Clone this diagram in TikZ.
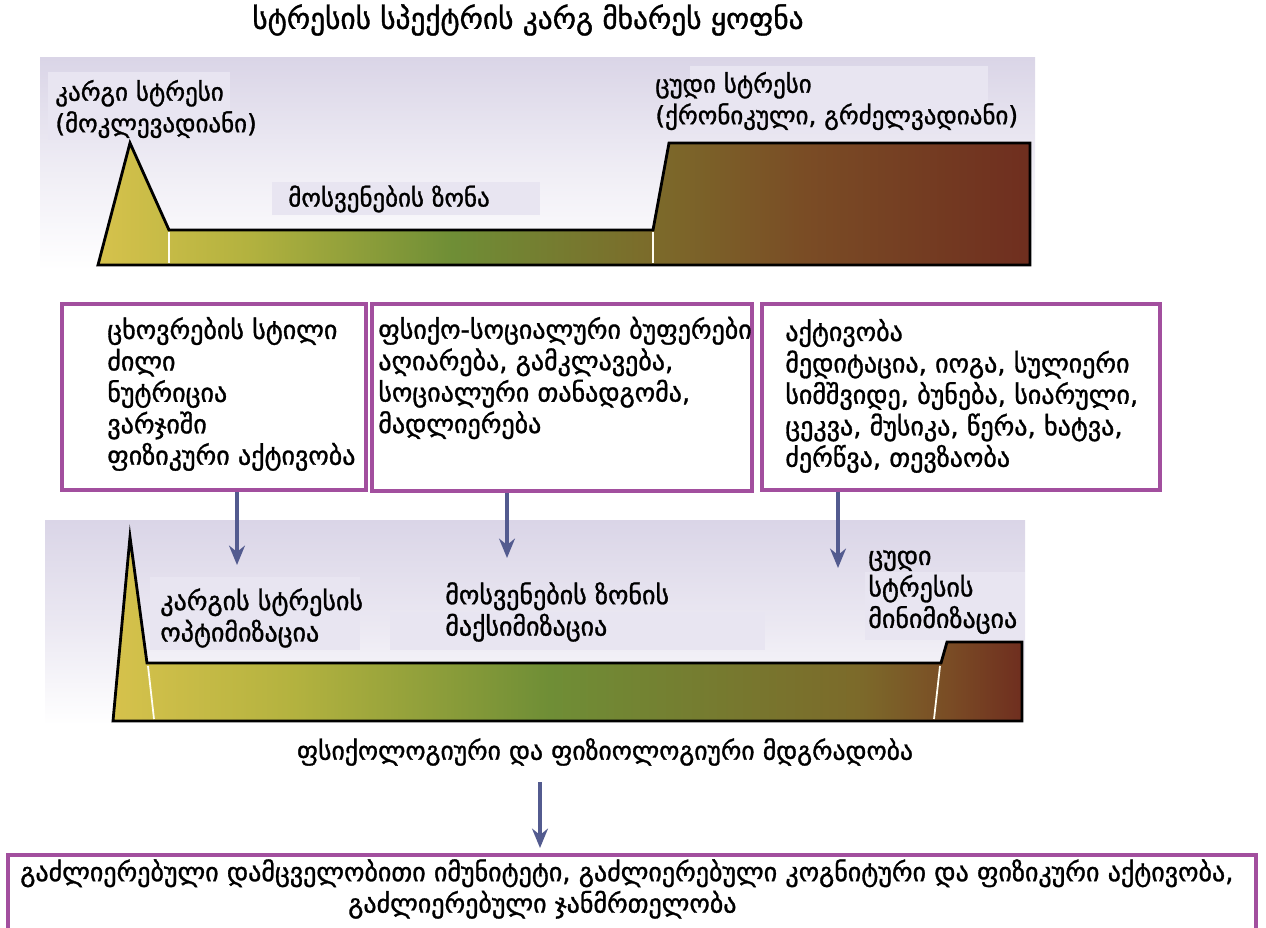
\documentclass[tikz,border=0pt]{standalone}
\usepackage{fontspec}
\setmainfont[FakeBold=1.2]{DejaVu Sans}
\usetikzlibrary{arrows.meta,fit}

\definecolor{lav}{HTML}{DAD5E7}
\definecolor{lavlight}{HTML}{E8E5F1}
\definecolor{boxpurple}{HTML}{A24F9E}
\definecolor{arrowblue}{HTML}{535B8F}
\definecolor{barY}{HTML}{D6C24C}
\definecolor{barYG}{HTML}{B3B23F}
\definecolor{barG}{HTML}{6F8E36}
\definecolor{barO}{HTML}{7C6A2A}
\definecolor{barB}{HTML}{7A4C25}
\definecolor{barR}{HTML}{6F2E1F}

% colour runs of the two stress bars (25bp..75bp is the bar itself)
\pgfdeclarehorizontalshading{spectrumtop}{100bp}{color(0bp)=(barY); color(25bp)=(barY);
  color(33bp)=(barYG); color(44bp)=(barG); color(55bp)=(barO); color(63bp)=(barB);
  color(75bp)=(barR); color(100bp)=(barR)}
\pgfdeclarehorizontalshading{spectrumlow}{100bp}{color(0bp)=(barY); color(25bp)=(barY);
  color(35bp)=(barYG); color(49bp)=(barG); color(66bp)=(barO); color(71bp)=(barB);
  color(75bp)=(barR); color(100bp)=(barR)}

\newcommand\lblsize{\fontsize{14.8pt}{17.9pt}\selectfont}
\newcommand\zonesize{\fontsize{14.2pt}{17.9pt}\selectfont}

\tikzset{
  lbl/.style={font=\lblsize, align=left, inner sep=0pt, anchor=west},
  zonelbl/.style={lbl, font=\zonesize},
  zonebg/.style={fill=lavlight},
  factor/.style={draw=boxpurple, line width=2.3pt, inner sep=0pt},
  push/.style={draw=arrowblue, line width=2.8pt, -{Stealth[length=11pt,width=9pt]}},
  bar/.style={draw=black, line width=1.6pt, line join=miter},
  gap/.style={draw=white!95!yellow, line width=1pt}
}

\begin{document}
\begin{tikzpicture}[x=0.02cm, y=-0.02cm]
\useasboundingbox (0,0) rectangle (1266,928);
\clip (0,0) rectangle (1266,928);

% title
\node[font=\fontsize{16.7pt}{20pt}\selectfont, inner sep=0pt] (title) at (528,20) {სტრესის სპექტრის კარგ მხარეს ყოფნა};

% upper spectrum
\shade[top color=lav, bottom color=white, middle color=lav!45] (40,58) rectangle (1035,270);
\fill[zonebg] (48,72) rectangle (230,140);
\fill[zonebg] (272,182) rectangle (540,215);
\fill[zonebg] (690,66) rectangle (988,133);
\path[bar, shading=spectrumtop] (98,265) -- (130,143) -- (169,230) -- (653,230) -- (669,143)
  -- (1030,143) -- (1030,265) -- cycle;
\draw[gap] (169,232) -- (169,263);
\draw[gap] (653,232) -- (653,263);

\node[zonelbl] (good) at (55,109) {კარგი სტრესი\\(მოკლევადიანი)};
\node[zonelbl] (rest) at (288,199) {მოსვენების ზონა};
\node[zonelbl] (bad) at (655,101) {ცუდი სტრესი\\(ქრონიკული, გრძელვადიანი)};

% factor boxes
\node[factor, fit={(62,304) (366,490)}] (life) {};
\node[factor, fit={(372,304) (752,491)}] (buffer) {};
\node[factor, fit={(762,304) (1160,490)}] (activ) {};
\node[lbl] (lifetxt) at (107,394) {ცხოვრების სტილი\\ძილი\\ნუტრიცია\\ვარჯიში\\ფიზიკური აქტივობა};
\node[lbl] (buftxt) at (378,378) {ფსიქო-სოციალური ბუფერები\\აღიარება, გამკლავება,\\სოციალური თანადგომა,\\მადლიერება};
\node[lbl] (acttxt) at (785,396) {აქტივობა\\მედიტაცია, იოგა, სულიერი\\სიმშვიდე, ბუნება, სიარული,\\ცეკვა, მუსიკა, წერა, ხატვა,\\ძერწვა, თევზაობა};

% lower spectrum
\shade[top color=lav, bottom color=white, middle color=lav!55] (45,520) rectangle (1025,725);
\fill[zonebg] (150,577) rectangle (360,650);
\fill[zonebg] (390,612) rectangle (765,650);
\fill[zonebg] (865,572) rectangle (1025,640);
\path[bar, shading=spectrumlow] (113,721) -- (130,537) -- (147,663) -- (941,663) -- (947,642)
  -- (1022,642) -- (1022,721) -- cycle;
\draw[gap] (148,666) -- (154,719);
\draw[gap] (940,666) -- (934,719);

\node[lbl] (opt) at (160,618) {კარგის სტრესის\\ოპტიმიზაცია};
\node[lbl] (max) at (445,612) {მოსვენების ზონის\\მაქსიმიზაცია};
\node[lbl] (min) at (868,592) {ცუდი\\სტრესის\\მინიმიზაცია};

\coordinate (optin) at (237,565);
\coordinate (maxin) at (507,558);
\coordinate (minin) at (838,568);
\draw[push] (life.south -| optin) -- (optin);
\draw[push] (buffer.south -| maxin) -- (maxin);
\draw[push] (activ.south -| minin) -- (minin);

% outcome
\node[font=\fontsize{14.6pt}{17.9pt}\selectfont, inner sep=0pt] (resil) at (605,752) {ფსიქოლოგიური და ფიზიოლოგიური მდგრადობა};
\node[factor, fit={(8,855) (1256,940)}] (result) {};
\node[lbl] (restxt) at (20,889) {გაძლიერებული დამცველობითი იმუნიტეტი, გაძლიერებული კოგნიტური და ფიზიკური აქტივობა,\\\hspace*{6.56cm}გაძლიერებული ჯანმრთელობა};
\coordinate (resin) at (540,848);
\draw[push] (540,782) -- (resin);
\end{tikzpicture}
\end{document}
